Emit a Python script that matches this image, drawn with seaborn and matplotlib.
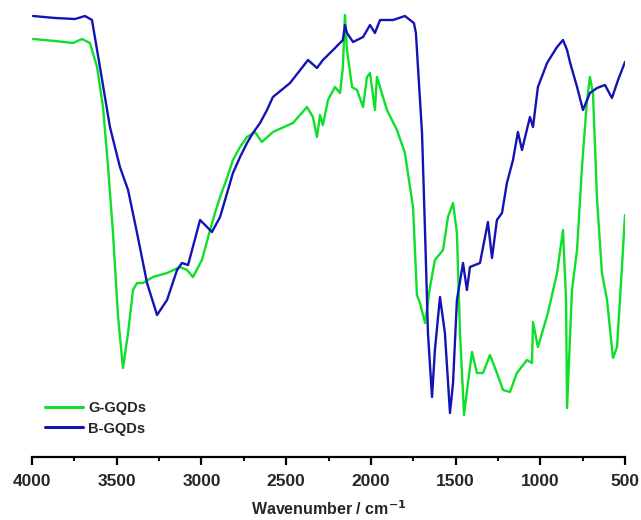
import numpy as np
import pandas as pd
import seaborn as sns
from matplotlib import pyplot
import matplotlib.ticker as mtick

# FTIR spectra (wavenumber in cm-1, transmittance in arbitrary %)
g_wn = [3994, 3864, 3758, 3705, 3658, 3616, 3581, 3551, 3522, 3492, 3463, 3433,
        3404, 3380, 3345, 3286, 3203, 3127, 3085, 3050, 2997, 2949, 2920, 2890,
        2849, 2814, 2772, 2731, 2684, 2643, 2578, 2460, 2377, 2342, 2318, 2300,
        2283, 2253, 2212, 2182, 2165, 2153, 2141, 2111, 2082, 2046, 2023, 2005,
        1976, 1964, 1905, 1846, 1799, 1769, 1751, 1728, 1710, 1680, 1651, 1622,
        1574, 1545, 1515, 1492, 1474, 1450, 1427, 1403, 1374, 1338, 1297, 1256,
        1220, 1179, 1138, 1079, 1049, 1043, 1014, 955, 901, 866, 848, 842,
        813, 783, 754, 724, 707, 689, 665, 636, 606, 571, 547, 518, 500]
g_tr = [92.2, 91.8, 91.4, 92.2, 91.4, 86.6, 78.6, 66.6, 53.4, 36.6, 26.4, 33.4,
        42.0, 43.4, 43.4, 44.6, 45.4, 46.6, 46.0, 44.6, 48.0, 54.0, 57.4, 60.6,
        64.4, 68.0, 70.6, 72.6, 73.6, 71.6, 73.6, 75.4, 78.6, 76.6, 72.6, 77.0,
        75.0, 80.0, 82.6, 81.4, 86.6, 97.0, 90.0, 82.6, 82.0, 78.6, 84.6, 85.4,
        78.0, 84.6, 78.0, 74.0, 69.4, 62.6, 58.6, 41.0, 39.4, 35.4, 42.6, 48.0,
        50.0, 56.6, 59.4, 53.4, 33.4, 17.0, 23.4, 29.6, 25.4, 25.4, 29.0, 25.4,
        22.0, 21.6, 25.4, 28.0, 27.4, 35.6, 30.6, 37.4, 45.4, 54.0, 40.0, 18.4,
        42.0, 50.0, 66.6, 80.0, 84.6, 81.4, 60.0, 45.4, 40.0, 28.4, 30.6, 46.6, 57.0]

b_wn = [3994, 3864, 3746, 3687, 3646, 3599, 3540, 3481, 3433, 3380, 3321, 3262,
        3203, 3144, 3115, 3079, 3008, 2967, 2938, 2890, 2814, 2772, 2731, 2696,
        2654, 2613, 2578, 2477, 2371, 2318, 2283, 2223, 2165, 2153, 2141, 2105,
        2046, 2005, 1976, 1946, 1869, 1799, 1769, 1746, 1734, 1722, 1710, 1698,
        1680, 1663, 1639, 1622, 1592, 1563, 1533, 1515, 1492, 1456, 1433, 1415,
        1356, 1309, 1285, 1256, 1226, 1197, 1161, 1132, 1108, 1061, 1043, 1014,
        960, 931, 901, 866, 842, 825, 783, 748, 707, 665, 618, 577, 541, 500]
b_tr = [96.8, 96.4, 96.2, 96.8, 96.0, 86.6, 74.6, 66.6, 62.0, 53.4, 43.4, 37.0,
        40.0, 46.0, 47.4, 47.0, 56.0, 54.6, 53.6, 56.6, 65.4, 68.6, 71.4, 73.4,
        75.4, 78.0, 80.6, 83.4, 88.0, 86.4, 88.0, 90.0, 92.0, 95.0, 93.4, 91.6,
        92.6, 95.0, 93.4, 96.0, 96.0, 96.8, 96.0, 95.4, 93.4, 86.6, 80.0, 73.4,
        53.4, 33.4, 20.6, 30.0, 40.6, 33.4, 17.4, 23.4, 40.0, 47.4, 42.0, 46.6,
        47.4, 55.6, 48.4, 56.0, 57.4, 63.4, 68.0, 73.6, 70.0, 76.6, 74.6, 82.6,
        87.4, 89.0, 90.6, 92.0, 90.0, 87.6, 82.6, 78.0, 81.4, 82.4, 83.0, 80.4,
        84.0, 87.6]

labels = ["G-GQDs", "B-GQDs"]
colors = ["#0ee02a", "#1414b4"]

df = pd.concat([
    pd.DataFrame({"wn": g_wn, "T": g_tr, "sample": labels[0]}),
    pd.DataFrame({"wn": b_wn, "T": b_tr, "sample": labels[1]}),
])

sns.set_style("white")
pyplot.rcParams["font.family"] = ["Liberation Sans", "DejaVu Sans"]
pyplot.rcParams["font.weight"] = "bold"

fig = pyplot.figure(figsize=(6.41, 5.2), dpi=100)
ax = fig.add_axes([32 / 641, 63 / 520, 593 / 641, 447 / 520])

sns.lineplot(data=df, x="wn", y="T", hue="sample", palette=colors,
             sort=False, estimator=None, linewidth=1.7, ax=ax)

ax.set_xlim(4000, 500)
ax.set_ylim(8.6, 98)
ax.set_yticks([])
ax.set_ylabel("")
for side in ["top", "right", "left"]:
    ax.spines[side].set_visible(False)
ax.spines["bottom"].set_linewidth(1.6)
ax.spines["bottom"].set_color("black")

ax.xaxis.set_major_locator(mtick.MultipleLocator(500))
ax.xaxis.set_minor_locator(mtick.MultipleLocator(250))
ax.tick_params(axis="x", which="major", direction="out", length=6, width=1.6,
               color="black", labelsize=12.5, pad=6, bottom=True)
ax.tick_params(axis="x", which="minor", direction="out", length=3, width=1.4,
               color="black", bottom=True)
for lab in ax.get_xticklabels():
    lab.set_fontweight("bold")

ax.set_xlabel("Wavenumber / cm$^{\\mathbf{-1}}$", fontsize=11.5, fontweight="bold",
              labelpad=8)

leg = ax.legend(loc="upper left", bbox_to_anchor=(45 / 641, 1 - 401 / 520),
                bbox_transform=fig.transFigure, frameon=False, fontsize=10.5,
                handlelength=2.6, handletextpad=0.35, labelspacing=0.45,
                borderpad=0, borderaxespad=0)
for line in leg.get_lines():
    line.set_linewidth(2.2)
for t in leg.get_texts():
    t.set_fontweight("bold")

pyplot.savefig("out.png", dpi=100)
